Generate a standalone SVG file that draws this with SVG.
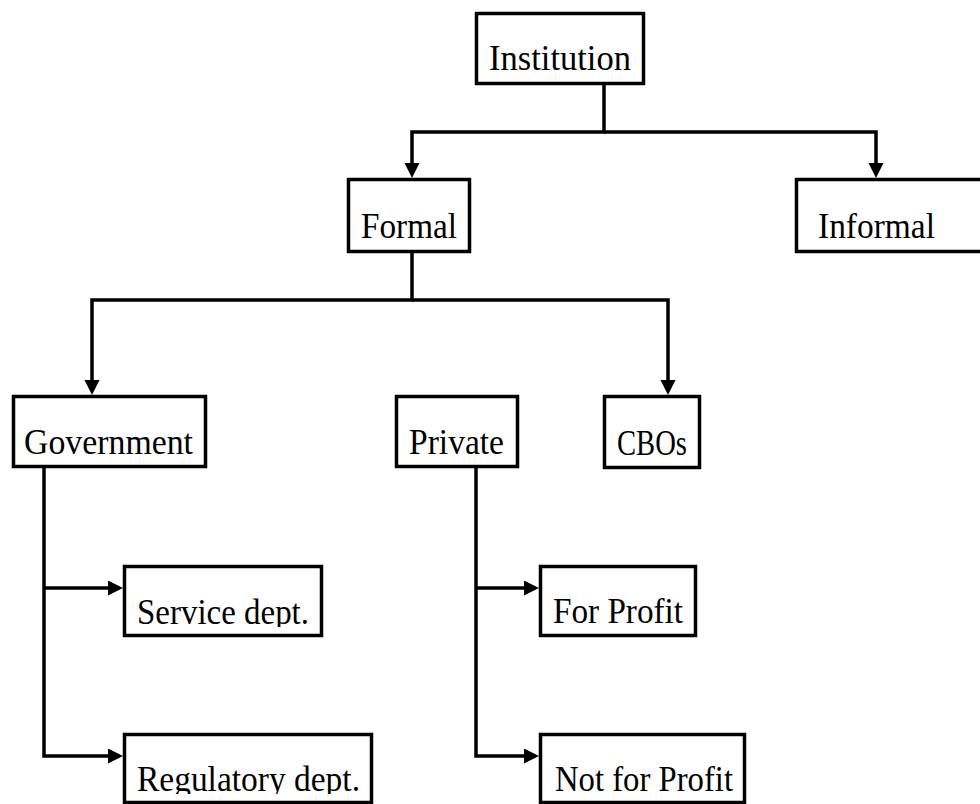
<svg xmlns="http://www.w3.org/2000/svg" width="980" height="804" viewBox="0 0 980 804">
<style>
.box{fill:#fff;stroke:#000;stroke-width:3.5}
.lbl{font-family:"Liberation Serif","Times New Roman",serif;font-size:35px;fill:#000}
.conn{fill:none;stroke:#000;stroke-width:3.5}
</style>
<defs>
<marker id="arr" markerUnits="userSpaceOnUse" markerWidth="16" markerHeight="16" refX="0" refY="7.5" orient="auto">
<path d="M0,0 L15,7.5 L0,15 Z" fill="#000"/>
</marker>
<clipPath id="clipService"><rect x="124" y="566" width="198" height="61"/></clipPath>
<clipPath id="clipReg"><rect x="124" y="734" width="248" height="60"/></clipPath>
</defs>
<rect width="980" height="804" fill="#fff"/>
<g id="connectors">
<path class="conn" d="M604,85 V132 H412 V163" marker-end="url(#arr)"/>
<path class="conn" d="M604,132 H876 V163" marker-end="url(#arr)"/>
<path class="conn" d="M412,253 V300 H92 V380" marker-end="url(#arr)"/>
<path class="conn" d="M412,300 H668 V380" marker-end="url(#arr)"/>
<path class="conn" d="M44,468 V756 H108" marker-end="url(#arr)"/>
<path class="conn" d="M44,588 H108" marker-end="url(#arr)"/>
<path class="conn" d="M476,468 V756 H524" marker-end="url(#arr)"/>
<path class="conn" d="M476,588 H524" marker-end="url(#arr)"/>
</g>
<g id="institution">
<rect class="box" x="476.5" y="13.5" width="167" height="70"/>
<text class="lbl" x="489" y="70" textLength="142" lengthAdjust="spacingAndGlyphs">Institution</text>
</g>
<g id="formal">
<rect class="box" x="348.5" y="179.5" width="121" height="72"/>
<text class="lbl" x="361" y="238" textLength="96" lengthAdjust="spacingAndGlyphs">Formal</text>
</g>
<g id="informal">
<rect class="box" x="796.5" y="179.5" width="200" height="72"/>
<text class="lbl" x="818" y="238" textLength="117" lengthAdjust="spacingAndGlyphs">Informal</text>
</g>
<g id="government">
<rect class="box" x="13.5" y="396.5" width="192" height="70"/>
<text class="lbl" x="24" y="454" textLength="169" lengthAdjust="spacingAndGlyphs">Government</text>
</g>
<g id="private">
<rect class="box" x="396.5" y="396.5" width="121" height="70"/>
<text class="lbl" x="409" y="454" textLength="95" lengthAdjust="spacingAndGlyphs">Private</text>
</g>
<g id="cbos">
<rect class="box" x="604.5" y="396.5" width="95" height="71"/>
<text class="lbl" x="617" y="455" textLength="70" lengthAdjust="spacingAndGlyphs">CBOs</text>
</g>
<g id="service">
<rect class="box" x="124.5" y="566.5" width="197" height="69"/>
<text class="lbl" x="137" y="624" textLength="172" lengthAdjust="spacingAndGlyphs" clip-path="url(#clipService)">Service dept.</text>
</g>
<g id="forprofit">
<rect class="box" x="540.5" y="566.5" width="155" height="69"/>
<text class="lbl" x="553" y="623" textLength="130" lengthAdjust="spacingAndGlyphs">For Profit</text>
</g>
<g id="regulatory">
<rect class="box" x="124.5" y="734.5" width="247" height="68"/>
<text class="lbl" x="137" y="791" textLength="223" lengthAdjust="spacingAndGlyphs" clip-path="url(#clipReg)">Regulatory dept.</text>
</g>
<g id="notforprofit">
<rect class="box" x="540.5" y="734.5" width="204" height="68"/>
<text class="lbl" x="555" y="791" textLength="178" lengthAdjust="spacingAndGlyphs">Not for Profit</text>
</g>
</svg>
